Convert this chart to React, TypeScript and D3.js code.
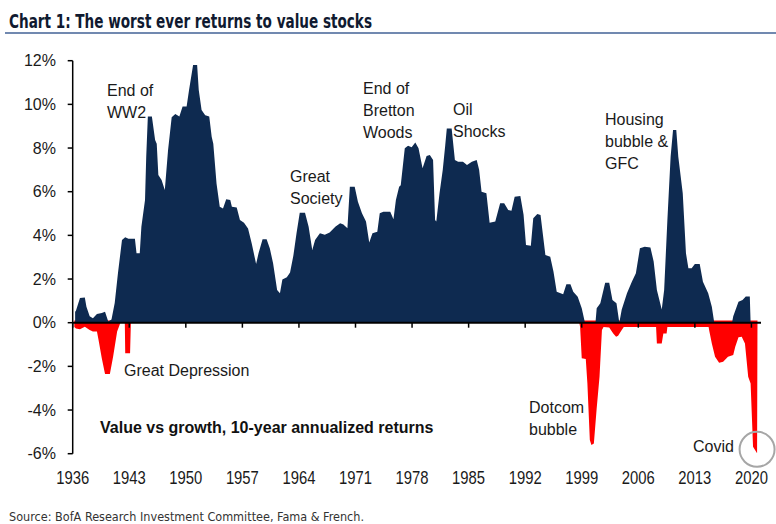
import * as d3 from "d3";
import React from "react";

// value minus growth, 10y annualized (%)
const navyYears = [
  1936.3, 1936.4, 1936.9, 1937.5, 1937.7, 1938.1, 1938.5, 1939.0, 1939.6, 1940.0,
  1940.4, 1940.8, 1941.2, 1941.6, 1942.1, 1942.5, 1942.9, 1943.7, 1943.9, 1944.3,
  1944.5, 1944.95, 1945.1, 1945.3, 1945.8, 1946.2, 1946.4, 1946.6, 1947.0, 1947.4,
  1947.8, 1948.25, 1948.7, 1949.2, 1949.6, 1950.1, 1950.4, 1950.9, 1951.4, 1951.6,
  1951.95, 1952.4, 1952.9, 1953.2, 1953.4, 1953.8, 1954.2, 1954.6, 1955.0, 1955.5,
  1955.7, 1956.3, 1956.7, 1957.2, 1957.7, 1958.15, 1958.7, 1959.0, 1959.5, 1960.0,
  1960.4, 1960.8, 1961.3, 1961.65, 1961.95, 1962.5, 1962.9, 1963.3, 1963.7, 1964.1,
  1964.75, 1965.2, 1965.65, 1966.0, 1966.6, 1967.2, 1967.8, 1968.5, 1969.1, 1969.5,
  1970.0, 1970.3, 1970.9, 1971.3, 1971.8, 1972.3, 1972.7, 1973.1, 1973.7, 1974.0,
  1974.45, 1975.3, 1975.7, 1976.0, 1976.4, 1976.6, 1977.1, 1977.5, 1977.95, 1978.4,
  1978.8, 1979.3, 1979.8, 1980.2, 1980.6, 1980.85, 1981.0, 1981.4, 1981.8, 1982.1,
  1982.3, 1982.9, 1983.3, 1983.7, 1984.3, 1984.8, 1985.4, 1986.0, 1986.3, 1986.6,
  1987.2, 1987.6, 1988.3, 1988.9, 1989.4, 1989.9, 1990.3, 1990.7, 1991.4, 1991.8,
  1992.1, 1992.7, 1993.0, 1993.5, 1993.9, 1994.5, 1995.1, 1995.5, 1995.9, 1996.7,
  1997.1, 1997.6, 1997.95, 1998.5, 1999.0, 1999.4, 2000.7, 2000.85, 2001.3, 2001.9,
  2002.4, 2002.8, 2003.3, 2003.65, 2003.95, 2004.6, 2005.2, 2005.7, 2006.2, 2006.8,
  2007.5, 2007.9, 2008.3, 2008.9, 2009.2, 2009.6, 2010.0, 2010.3, 2010.7, 2010.95,
  2011.5, 2011.9, 2012.2, 2012.6, 2013.0, 2013.6, 2014.0, 2014.65, 2015.1, 2015.4,
  2017.6, 2017.75, 2018.4, 2018.9, 2019.3, 2019.8, 2019.9,
];
const navyValues = [
  0.5, 0.55, 1.13, 1.15, 0.73, 0.3, 0.2, 0.4, 0.45, 0.5,
  0.05, 0.15, 0.9, 2.26, 3.79, 3.91, 3.85, 3.85, 3.18, 3.18,
  4.4, 5.62, 7.6, 9.44, 9.44, 8.37, 8.2, 6.77, 6.54, 6.08,
  7.9, 9.41, 9.56, 9.44, 9.9, 9.9, 10.66, 11.8, 11.8, 10.66,
  9.74, 9.5, 9.44, 8.52, 8.2, 6.38, 5.31, 5.23, 5.65, 5.62,
  5.31, 5.28, 4.7, 4.58, 4.32, 3.64, 2.69, 3.18, 3.82, 3.82,
  3.4, 2.72, 1.5, 1.35, 1.98, 2.08, 2.3, 3.05, 4.1, 5.04,
  5.04, 4.4, 3.33, 3.79, 4.1, 4.03, 4.13, 4.4, 4.55, 4.5,
  4.33, 6.23, 6.23, 5.54, 5.01, 4.63, 3.67, 4.1, 4.17, 5.01,
  5.08, 5.08, 4.74, 5.62, 6.23, 6.3, 7.99, 8.1, 8.04, 8.25,
  7.99, 7.07, 7.64, 7.68, 7.45, 4.7, 4.63, 5.93, 7.0, 8.1,
  8.9, 8.9, 7.45, 7.37, 7.37, 7.22, 7.37, 7.45, 7.0, 6.0,
  5.93, 4.58, 4.63, 5.47, 5.47, 5.16, 5.13, 5.77, 5.8, 4.95,
  3.56, 3.52, 4.78, 4.98, 4.93, 3.1, 3.02, 2.34, 1.42, 1.3,
  1.76, 1.76, 1.42, 1.19, 0.66, 0, 0, 0.66, 0.89, 1.83,
  1.83, 1.04, 0.89, 0, 0.6, 1.35, 1.88, 2.26, 3.41, 3.48,
  3.45, 2.8, 1.5, 0.6, 1.5, 4.7, 7.6, 8.83, 8.83, 7.6,
  5.93, 3.18, 2.49, 2.49, 2.69, 2.69, 1.88, 1.35, 0.73, 0,
  0, 0.3, 0.96, 1.04, 1.2, 1.2, 0,
];

const redYears = [
  1936.2, 1936.4, 1936.9, 1937.5, 1938.1, 1938.5, 1939.0, 1939.2, 1939.6, 1940.0,
  1940.6, 1941.0, 1941.5, 1941.8, 1941.9, 1942.45, 1942.5, 1943.1, 1943.2, 1998.7,
  1998.8, 1999.0, 1999.5, 1999.7, 2000.0, 2000.2, 2000.5, 2000.85, 2001.2, 2001.5,
  2001.7, 2002.4, 2002.9, 2003.25, 2003.5, 2003.95, 2004.2, 2008.2, 2008.3, 2008.9,
  2009.1, 2009.5, 2009.6, 2014.7, 2014.8, 2015.1, 2015.5, 2016.0, 2016.5, 2017.1,
  2017.75, 2018.0, 2018.4, 2018.8, 2019.2, 2019.6, 2019.9, 2020.2, 2020.7, 2020.75,
];
const redValues = [
  -0.2, -0.26, -0.3, -0.18, -0.33, -0.4, -0.4, -0.79, -1.63, -2.35,
  -2.35, -1.56, -0.4, -0.1, 0, 0, -1.4, -1.4, 0, 0,
  -0.2, -1.63, -1.66, -2.78, -5.37, -5.6, -5.53, -3.92, -2.47, -0.33,
  -0.2, -0.22, -0.49, -0.64, -0.6, -0.33, -0.2, -0.2, -0.95, -0.95,
  -0.49, -0.49, -0.2, -0.2, -0.4, -0.95, -1.56, -1.83, -1.79, -1.56,
  -1.48, -1.1, -0.67, -0.64, -0.95, -2.47, -2.78, -5.68, -5.98, 0,
];

const xTickYears = [1936, 1943, 1950, 1957, 1964, 1971, 1978, 1985, 1992, 1999, 2006, 2013, 2020];
const yTickValues = [-6, -4, -2, 0, 2, 4, 6, 8, 10, 12];

const annotations = [
  { lines: ["End of", "WW2"], x: 107, y: 96 },
  { lines: ["Great", "Society"], x: 290, y: 182 },
  { lines: ["End of", "Bretton", "Woods"], x: 363, y: 94 },
  { lines: ["Oil", "Shocks"], x: 453, y: 115 },
  { lines: ["Housing", "bubble &", "GFC"], x: 605, y: 125 },
  { lines: ["Great Depression"], x: 124, y: 376 },
  { lines: ["Dotcom", "bubble"], x: 529, y: 413 },
  { lines: ["Covid"], x: 693, y: 452 },
];

const W = 776;
const H = 524;
const navy = "#0e2a50";
const red = "#ff0000";
const font = "'Liberation Sans', Arial, sans-serif";
const narrow = "'Liberation Sans Narrow', 'DejaVu Sans Condensed', 'Liberation Sans', sans-serif";

export default function App() {
  const x = d3.scaleLinear().domain([1936, 2021]).range([72.7, 759.5]);
  const y = d3.scaleLinear().domain([-6, 12]).range([453.7, 60.7]);

  const navyArea = d3
    .area<number>()
    .x((_, i) => x(navyYears[i]))
    .y0(y(0))
    .y1((d) => y(d));

  // red band reaches a hair above zero, like the original
  const redArea = d3
    .area<number>()
    .x((_, i) => x(redYears[i]))
    .y0(y(0.1))
    .y1((d) => y(d));

  return (
    <>
      <style>{`body{margin:0}`}</style>
      <svg width={W} height={H} style={{ display: "block", background: "#fff" }}>
        <text x={9} y={28} fontFamily={narrow} fontWeight="bold" fontSize={19} fill="#101a30"
          textLength={363} lengthAdjust="spacingAndGlyphs">
          Chart 1: The worst ever returns to value stocks
        </text>
        <line x1={5} x2={W} y1={33} y2={33} stroke="#7189b0" strokeWidth={2} />

        <path d={redArea(redValues) ?? ""} fill={red} />
        <path d={navyArea(navyValues) ?? ""} fill={navy} />

        {/* y axis */}
        <line x1={x(1936)} x2={x(1936)} y1={y(12)} y2={y(-6)} stroke="#000" strokeWidth={1.5} />
        {yTickValues.map((v) => (
          <g key={v}>
            <line x1={x(1936) - 5} x2={x(1936)} y1={y(v)} y2={y(v)} stroke="#000" strokeWidth={1.5} />
            <text x={56} y={y(v) + 5.5} textAnchor="end" fontFamily={font} fontSize={16} fill="#1a1a1a">
              {v}%
            </text>
          </g>
        ))}

        {/* zero line + year ticks */}
        <line x1={x(1936)} x2={761} y1={y(0)} y2={y(0)} stroke="#000" strokeWidth={2} />
        {xTickYears.map((yr) => (
          <g key={yr}>
            <line x1={x(yr)} x2={x(yr)} y1={y(0)} y2={y(0) + 5} stroke="#000" strokeWidth={1.5} />
            <text x={x(yr)} y={484} textAnchor="middle" fontFamily={font} fontSize={19} fill="#1a1a1a"
              textLength={33} lengthAdjust="spacingAndGlyphs">
              {yr}
            </text>
          </g>
        ))}

        {annotations.map((a, i) => (
          <text key={i} x={a.x} y={a.y} fontFamily={font} fontSize={16} fill="#1a1a1a">
            {a.lines.map((l, j) => (
              <tspan key={j} x={a.x} dy={j === 0 ? 0 : 22}>
                {l}
              </tspan>
            ))}
          </text>
        ))}

        <text x={100} y={433} fontFamily={font} fontWeight="bold" fontSize={16} fill="#111">
          Value vs growth, 10-year annualized returns
        </text>

        <circle cx={x(2020.7)} cy={y(-5.8)} r={17.5} fill="none" stroke="#a6a6a6" strokeWidth={2} />

        <text x={9} y={521} fontFamily={narrow} fontSize={13} fill="#333"
          textLength={355} lengthAdjust="spacingAndGlyphs">
          Source:  BofA Research Investment Committee, Fama &amp; French.
        </text>
      </svg>
    </>
  );
}
